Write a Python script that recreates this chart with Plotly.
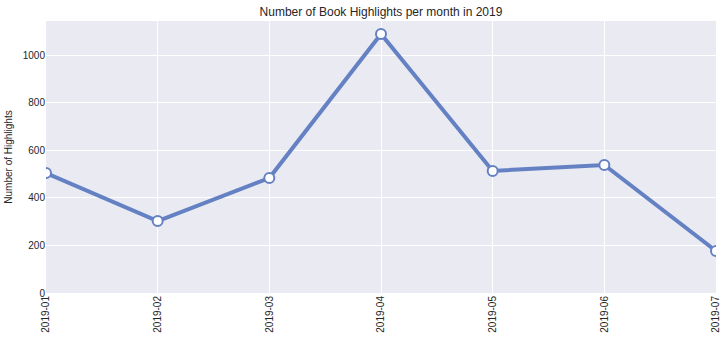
import plotly.graph_objects as go

months = ["2019-01", "2019-02", "2019-03", "2019-04", "2019-05", "2019-06", "2019-07"]
highlights = [505, 303, 484, 1090, 514, 539, 177]

line_color = "rgb(100,129,196)"

fig = go.Figure()
fig.add_trace(go.Scatter(
    x=months, y=highlights, mode="lines+markers",
    line=dict(color=line_color, width=4),
    marker=dict(size=10, color="white", line=dict(color=line_color, width=2)),
    cliponaxis=True,
))

fig.update_layout(
    width=727, height=340,
    margin=dict(l=46, r=11, t=21, b=47),
    paper_bgcolor="white", plot_bgcolor="#eaeaf2",
    font=dict(family="Liberation Sans, Arial, sans-serif", size=10, color="#262626"),
    title=dict(text="Number of Book Highlights per month in 2019", x=0.5, xref="paper",
               y=1, yref="paper", yanchor="bottom", pad=dict(b=5),
               font=dict(size=12, color="#262626")),
    showlegend=False,
)
fig.update_xaxes(type="category", range=[0, 6], showgrid=True, gridcolor="white", gridwidth=1,
                 tickangle=-90, zeroline=False, showline=False, ticks="", tickfont=dict(size=10),
                 automargin=False)
fig.update_yaxes(range=[0, 1145], dtick=200, showgrid=True, gridcolor="white", gridwidth=1,
                 zeroline=False, showline=False, ticks="", automargin=False,
                 title=dict(text="Number of Highlights", font=dict(size=10), standoff=8))

fig.write_html("out.html")
